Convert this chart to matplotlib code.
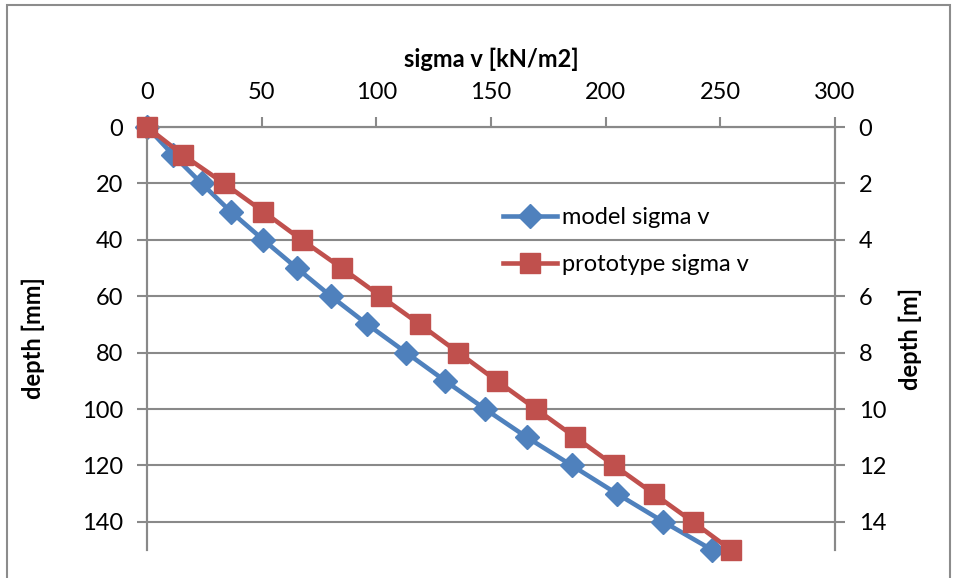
import matplotlib
matplotlib.use("Agg")
from matplotlib import pyplot as plt
from matplotlib.patches import Rectangle

plt.rcParams['font.family'] = ['Lato', 'DejaVu Sans']

# depth of model [mm] and prototype [m]
depth_mm = [0, 10, 20, 30, 40, 50, 60, 70, 80, 90, 100, 110, 120, 130, 140, 150]
depth_m = [0, 1, 2, 3, 4, 5, 6, 7, 8, 9, 10, 11, 12, 13, 14, 15]
# vertical stress [kN/m2]
model_sigma = [0, 11.5, 23.8, 36.5, 50.7, 65.3, 80.2, 96.1, 113.0, 130.0,
               147.4, 165.6, 185.2, 204.8, 225.2, 246.5]
proto_sigma = [0, 15.8, 33.6, 50.7, 67.4, 84.9, 101.9, 119.0, 135.8, 152.5,
               169.6, 186.7, 203.7, 220.9, 238.0, 254.7]

blue = "#4F81BD"
red = "#C0504D"
grey = "#898989"
fs = 17

fig = plt.figure(figsize=(9.57, 5.78), dpi=100)
fig.patches.append(Rectangle((6.5 / 957, -0.02), 943 / 957, 1.02 - 5.5 / 578,
                             transform=fig.transFigure, fill=False,
                             edgecolor="#8c8c8c", linewidth=1.5))

ax = fig.add_axes([147 / 957, 1 - 550 / 578, (835 - 147) / 957, (550 - 127) / 578])
ax2 = ax.twinx()

l1, = ax.plot(model_sigma, depth_mm, color=blue, linewidth=3.3, marker="D",
              markersize=12, label="model sigma v", clip_on=False, zorder=3)
l2, = ax2.plot(proto_sigma, depth_m, color=red, linewidth=3.3, marker="s",
               markersize=14, label="prototype sigma v", clip_on=False, zorder=3)

ax.set_xlim(0, 300)
ax.set_ylim(150, 0)
ax2.set_ylim(15, 0)
ax.set_xticks(range(0, 301, 50))
ax.set_yticks(range(0, 141, 20))
ax2.set_yticks(range(0, 15, 2))

ax.xaxis.tick_top()
ax.xaxis.set_label_position("top")
ax.grid(axis="y", color=grey, linewidth=1.5)
ax.set_axisbelow(True)

for a in (ax, ax2):
    for s in a.spines.values():
        s.set_color(grey)
        s.set_linewidth(1.5)
    a.spines["bottom"].set_visible(False)
    a.tick_params(colors=grey, labelcolor="black", labelsize=fs,
                  width=1.5, length=7, pad=10)

ax.set_xlabel("sigma v [kN/m2]", fontsize=fs, fontweight="bold", labelpad=11)
ax.set_ylabel("depth [mm]", fontsize=fs, fontweight="bold", labelpad=27)
ax2.set_ylabel("depth [m]", fontsize=fs, fontweight="bold", labelpad=9)

leg = ax.legend(handles=[l1, l2], loc="center left", bbox_to_anchor=(0.503, 0.73),
                frameon=False, fontsize=fs, handlelength=2.3, handletextpad=0.2,
                labelspacing=1.1, borderaxespad=0)

fig.savefig("out.png", dpi=100)
